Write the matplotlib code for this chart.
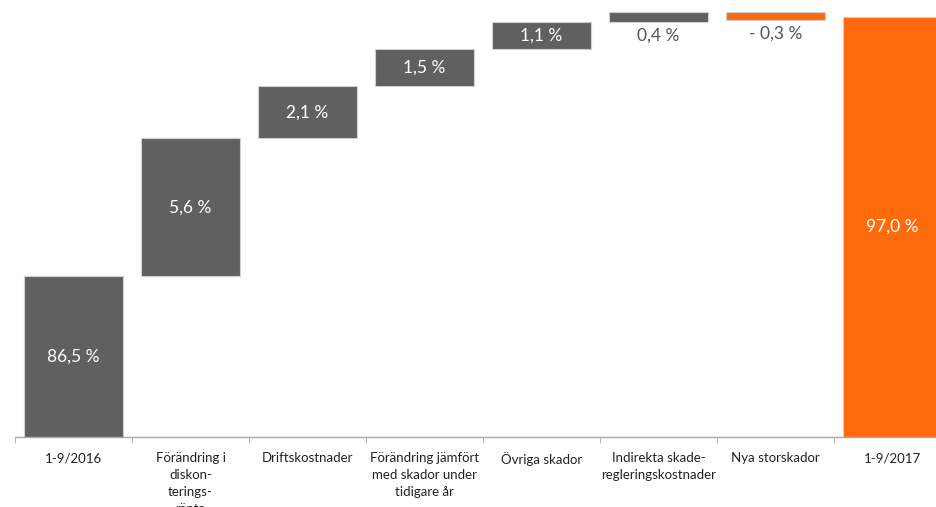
import matplotlib
matplotlib.use('Agg')
import matplotlib.pyplot as plt
import numpy as np

plt.rcParams['font.family'] = ['Lato', 'DejaVu Sans']

# data
categories = ['1-9/2016', 'Förändring i\ndiskon-\nterings-\nränta', 'Driftskostnader',
              'Förändring jämfört\nmed skador under\ntidigare år', 'Övriga skador',
              'Indirekta skade-\nregleringskostnader', 'Nya storskador', '1-9/2017']
values = [86.5, 5.6, 2.1, 1.5, 1.1, 0.4, -0.3, 97.0]
is_total = [True, False, False, False, False, False, False, True]

GREY = '#606060'
ORANGE = '#ff6a0d'
Y0 = 80.0

fig = plt.figure(figsize=(9.36, 5.07), dpi=100)
ax = fig.add_axes([15 / 936, 70 / 507, 1.0, 437 / 507])

x = np.arange(len(categories))
bottoms, heights, colors = [], [], []
running = 0.0
for i, (v, tot) in enumerate(zip(values, is_total)):
    if tot:
        bottoms.append(Y0)
        heights.append(v - Y0)
        colors.append(GREY if i == 0 else ORANGE)
        running = v
    else:
        lo = running if v >= 0 else running + v
        bottoms.append(lo)
        heights.append(abs(v))
        colors.append(GREY if v >= 0 else ORANGE)
        running += v

ax.bar(x, heights, bottom=bottoms, width=0.845, color=colors,
       edgecolor='#d0d0d0', linewidth=0.8, zorder=2)

for xi, v, b, h in zip(x, values, bottoms, heights):
    txt = ('- ' if v < 0 else '') + f'{abs(v):.1f}'.replace('.', ',') + ' %'
    if h >= 0.8:
        ax.text(xi, b + h / 2, txt, ha='center', va='center', color='white',
                fontsize=12.5)
    else:
        ax.annotate(txt, (xi, b), xytext=(0, -6), textcoords='offset pixels',
                    ha='center', va='top', color='#555555', fontsize=12.5)

ax.set_xlim(-0.5, len(categories) - 0.5)
ax.set_ylim(Y0, Y0 + 437 / 24.7)

for s in ['top', 'right', 'left']:
    ax.spines[s].set_visible(False)
ax.spines['bottom'].set_color('#a6a6a6')
ax.spines['bottom'].set_linewidth(1.0)
ax.set_yticks([])

ax.set_xticks(x)
ax.set_xticklabels(categories, fontsize=9.5, color='#222222', linespacing=1.5, va='top')
ax.tick_params(axis='x', which='major', length=0, pad=11)
ax.set_xticks(np.arange(-0.5, len(categories), 1.0), minor=True)
ax.tick_params(axis='x', which='minor', length=4, color='#a6a6a6', direction='out')

fig.savefig('out.png', dpi=100)
